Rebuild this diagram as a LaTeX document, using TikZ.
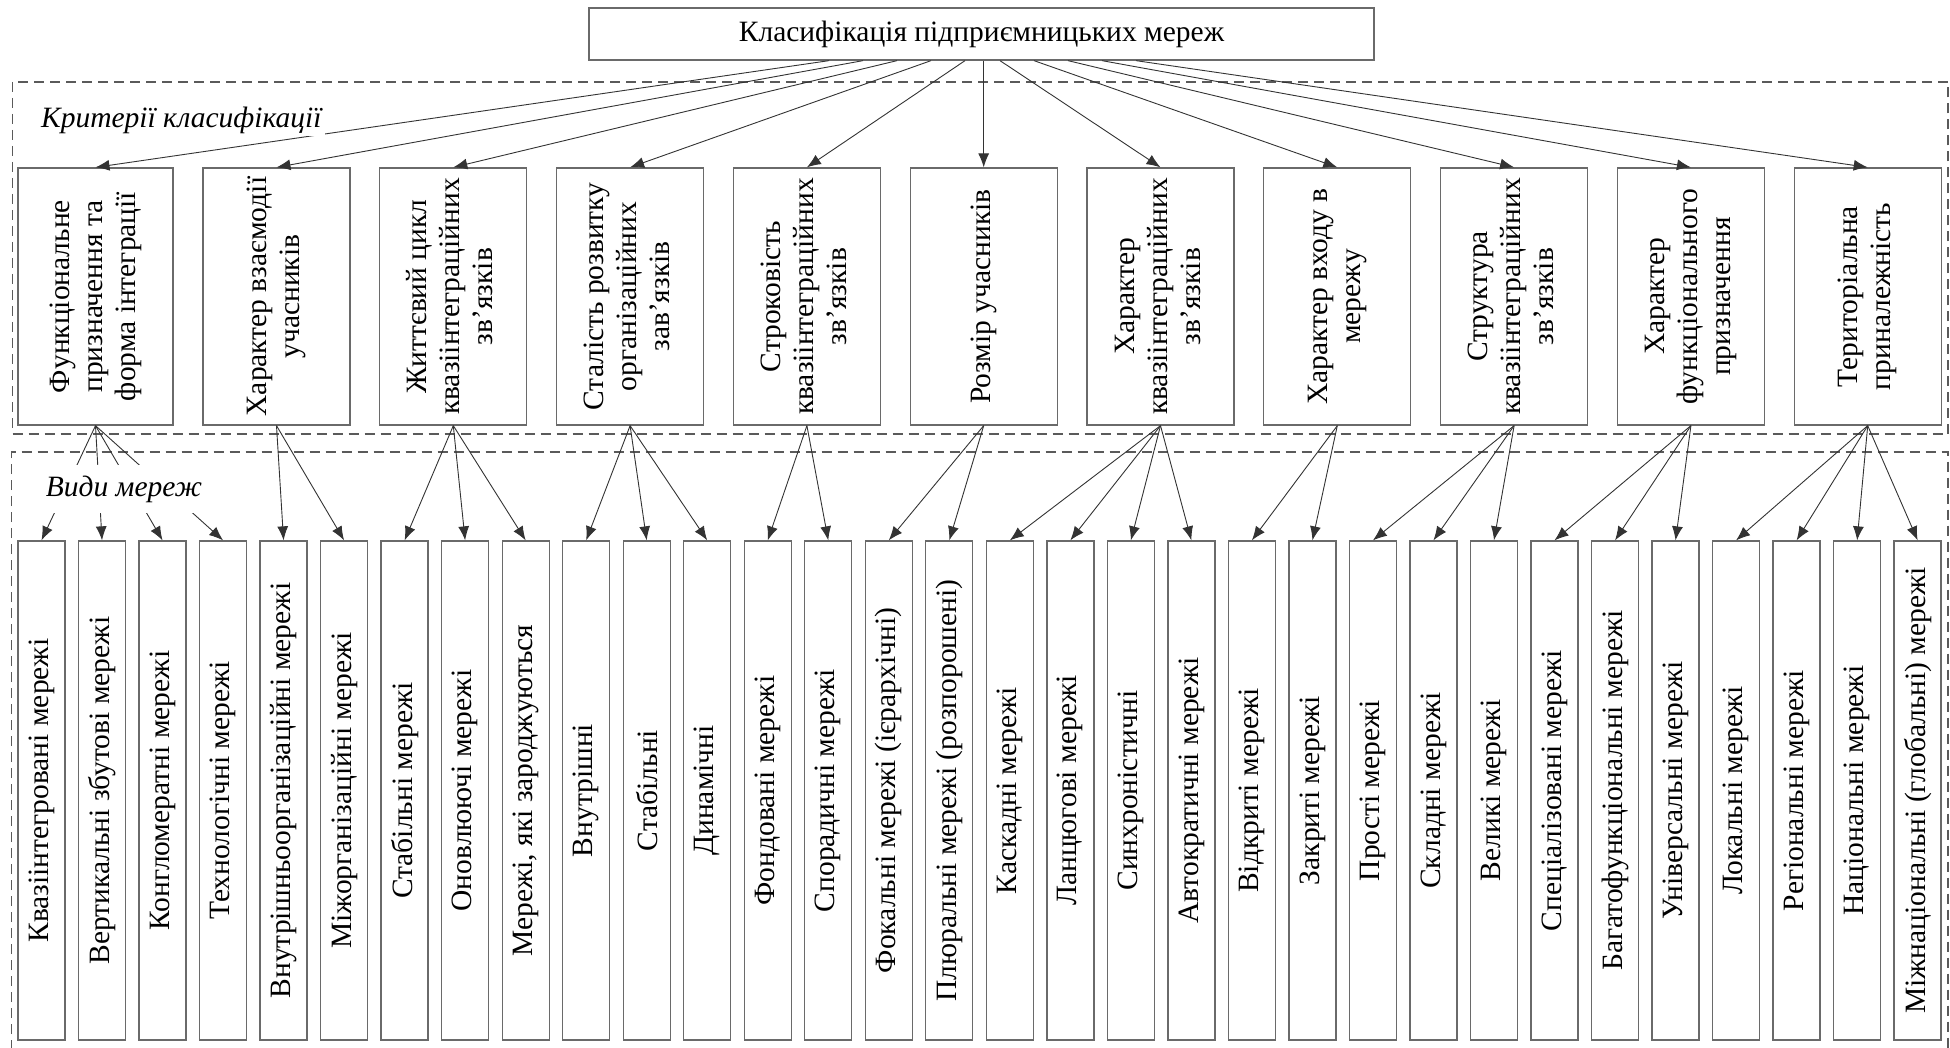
\documentclass[tikz,border=0pt]{standalone}
\usepackage{fontspec}
\setmainfont{Liberation Serif}
\usetikzlibrary{arrows.meta}
\definecolor{boxgray}{HTML}{6A6A6A}
\definecolor{linegray}{HTML}{333333}
\definecolor{dashgray}{HTML}{5A5A5A}
\newcommand{\vtext}[1]{\rotatebox{90}{\begin{tabular}{@{}c@{}}#1\end{tabular}}}
\begin{document}
\begin{tikzpicture}[x=1pt,y=-1pt,
  every node/.style={font=\fontsize{29.5}{33}\selectfont},
  box/.style={draw=boxgray, line width=1.3pt, fill=white, inner sep=0pt},
  critbox/.style={box, minimum width=147pt, minimum height=257pt},
  leafbox/.style={box, minimum width=47pt, minimum height=499pt},
  arr/.style={draw=linegray, line width=0.9pt, -{Latex[length=14pt,width=11pt]}},
  frame/.style={draw=dashgray, line width=1.3pt, dash pattern=on 10pt off 6pt},
  lbl/.style={fill=white, inner sep=3pt, font=\fontsize{29.5}{33}\selectfont\itshape}]

\useasboundingbox (0,0) rectangle (1950,1048);

% dashed frames
\draw[frame] (12.5,82) rectangle (1948,434);
\draw[frame] (11.5,1050) -- (11.5,452) -- (1948,452) -- (1948,1050);

% top node
\node[box, minimum width=785pt, minimum height=52pt] (top) at (981.5,34) {Класифікація підприємницьких мереж};

% criteria
\node[critbox, minimum width=155pt] (c1) at (95.5,296.5) {\vtext{Функціональне\\призначення та\\форма інтеграції}};
\node[critbox] (c2) at (276.5,296.5) {\vtext{Характер взаємодії\\учасників}};
\node[critbox] (c3) at (453.3,296.5) {\vtext{Життєвий цикл\\квазіінтеграційних\\зв’язків}};
\node[critbox] (c4) at (630.1,296.5) {\vtext{Сталість розвитку\\організаційних\\зав’язків}};
\node[critbox] (c5) at (806.9,296.5) {\vtext{Строковість\\квазіінтеграційних\\зв’язків}};
\node[critbox] (c6) at (983.7,296.5) {\vtext{Розмір учасників}};
\node[critbox] (c7) at (1160.5,296.5) {\vtext{Характер\\квазіінтеграційних\\зв’язків}};
\node[critbox] (c8) at (1337.3,296.5) {\vtext{Характер входу в\\мережу}};
\node[critbox] (c9) at (1514.1,296.5) {\vtext{Структура\\квазіінтеграційних\\зв’язків}};
\node[critbox] (c10) at (1690.9,296.5) {\vtext{Характер\\функціонального\\призначення}};
\node[critbox] (c11) at (1867.7,296.5) {\vtext{Територіальна\\приналежність}};

% leaves
\foreach \i/\t in {0/Квазіінтегровані мережі, 1/Вертикальні збутові мережі, 2/Конгломератні мережі,
  3/Технологічні мережі, 4/Внутрішньоорганізаційні мережі, 5/Міжорганізаційні мережі,
  6/Стабільні мережі, 7/Оновлюючі мережі, 8/{Мережі, які зароджуються}, 9/Внутрішні,
  10/Стабільні, 11/Динамічні, 12/Фондовані мережі, 13/Спорадичні мережі,
  14/Фокальні мережі (ієрархічні), 15/Плюральні мережі (розпорошені), 16/Каскадні мережі,
  17/Ланцюгові мережі, 18/Синхроністичні, 19/Автократичні мережі, 20/Відкриті мережі,
  21/Закриті мережі, 22/Прості мережі, 23/Складні мережі, 24/Великі мережі,
  25/Спеціалізовані мережі, 26/Багатофункціональні мережі, 27/Універсальні мережі,
  28/Локальні мережі, 29/Регіональні мережі, 30/Національні мережі,
  31/Міжнаціональні (глобальні) мережі}
  \node[leafbox] (b\i) at ({41.5+60.52*\i},790.5) {\rotatebox{90}{\t}};

% arrows top -> criteria
\foreach \k/\s in {1/-152.5, 2/-118.5, 3/-84.5, 4/-50.5, 5/-16.5, 7/18.5, 8/52.5, 9/86.5, 10/120.5, 11/154.5}
  \draw[arr] ([xshift=\s pt]top.south) -- (c\k.north);
\draw[arr] (top.south -| c6.north) -- (c6.north);

% arrows criteria -> leaves
\foreach \k/\lst in {1/{0,1,2,3}, 2/{4,5}, 3/{6,7,8}, 4/{9,10,11}, 5/{12,13}, 6/{14,15},
  7/{16,17,18,19}, 8/{20,21}, 9/{22,23,24}, 10/{25,26,27}, 11/{28,29,30,31}}
  \foreach \j in \lst
    \draw[arr] (c\k.south) -- (b\j.north);

% labels
\node[lbl, anchor=west] (klabel) at (38,120) {Критерії класифікації};
\node[lbl, minimum width=176pt, minimum height=48pt] (vlabel) at (124,489) {Види мереж};
\end{tikzpicture}
\end{document}
